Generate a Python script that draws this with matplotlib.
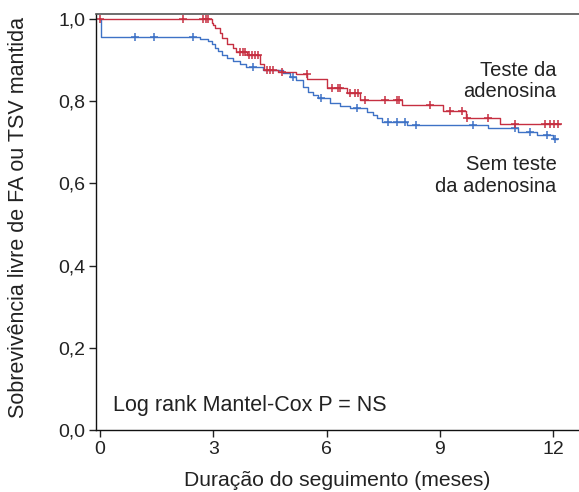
import numpy as np
import matplotlib
matplotlib.use("Agg")
import matplotlib.pyplot as plt
from matplotlib.ticker import FuncFormatter

plt.rcParams['font.family'] = ['Liberation Sans', 'DejaVu Sans']

# Kaplan-Meier step data: event times (months) and survival after each event
adeno_times = [0.0, 2.96, 2.99, 3.05, 3.18, 3.23, 3.36, 3.52, 3.60, 3.89, 4.24, 4.34,
               4.72, 5.19, 5.48, 6.01, 6.54, 6.89, 8.00, 9.09, 9.70, 10.60]
adeno_surv = [1.000, 0.990, 0.985, 0.977, 0.966, 0.953, 0.940, 0.929, 0.920, 0.912, 0.890, 0.877,
              0.872, 0.866, 0.855, 0.831, 0.821, 0.803, 0.790, 0.776, 0.760, 0.745]
adeno_end = 12.19
adeno_censored = [0.0, 2.20, 2.73, 2.81, 2.87, 3.71, 3.79, 3.84, 3.95, 4.03, 4.10, 4.19,
                  4.42, 4.50, 4.58, 4.82, 5.47, 6.15, 6.30, 6.36, 6.62, 6.75, 6.83, 7.02,
                  7.55, 7.87, 7.92, 8.74, 9.27, 9.59, 9.72, 10.28, 10.99, 11.79, 11.92,
                  12.03, 12.13]

no_adeno_times = [0.0, 0.03, 2.65, 2.86, 2.97, 3.05, 3.13, 3.23, 3.36, 3.52, 3.71, 3.87,
                  4.32, 4.85, 5.03, 5.19, 5.38, 5.51, 5.64, 5.77, 6.09, 6.36, 6.62, 7.07,
                  7.23, 7.34, 7.47, 8.12, 10.28, 11.07, 11.58, 11.99]
no_adeno_surv = [1.000, 0.956, 0.951, 0.946, 0.938, 0.930, 0.921, 0.912, 0.905, 0.897, 0.890, 0.883,
                 0.876, 0.868, 0.860, 0.852, 0.835, 0.823, 0.815, 0.808, 0.796, 0.789, 0.783, 0.774,
                 0.766, 0.759, 0.750, 0.742, 0.734, 0.726, 0.717, 0.709]
no_adeno_end = 12.12
no_adeno_censored = [0.93, 1.43, 2.46, 4.05, 5.11, 5.85, 6.81, 7.63, 7.87, 8.08, 8.37,
                     9.88, 10.99, 11.39, 11.84, 12.05]

x_ticks = [0, 3, 6, 9, 12]
y_ticks = [0.0, 0.2, 0.4, 0.6, 0.8, 1.0]

RED = '#c62f41'
BLUE = '#3e72c6'
TEXT = '#222222'


def survival_at(times, surv, t):
    idx = np.searchsorted(times, t, side='right') - 1
    return np.asarray(surv)[np.clip(idx, 0, len(surv) - 1)]


fig = plt.figure(figsize=(5.79, 4.92), dpi=100)
ax = fig.add_axes([0.166, 0.126, 0.834, 0.8455])

for times, surv, end, cens, color in [
    (no_adeno_times, no_adeno_surv, no_adeno_end, no_adeno_censored, BLUE),
    (adeno_times, adeno_surv, adeno_end, adeno_censored, RED),
]:
    t = np.append(times, end)
    s = np.append(surv, surv[-1])
    ax.step(t, s, where='post', color=color, lw=1.0)
    ax.plot(cens, survival_at(times, surv, cens), linestyle='none', marker='+',
            ms=6, mew=1.1, color=color)

ax.set_xlim(-0.106, 12.69)
ax.set_ylim(0.0, 1.012)
ax.set_xticks(x_ticks)
ax.set_yticks(y_ticks)
ax.yaxis.set_major_formatter(FuncFormatter(lambda v, p: f"{v:.1f}".replace('.', ',')))
ax.tick_params(direction='out', length=5, width=1, labelsize=14, colors=TEXT)
ax.tick_params(axis='x', pad=3)
ax.tick_params(axis='y', pad=3)

ax.spines['right'].set_visible(False)
ax.spines['top'].set_color('#555555')
ax.spines['top'].set_linewidth(1.2)
for side in ('left', 'bottom'):
    ax.spines[side].set_color('#111111')
    ax.spines[side].set_linewidth(1.0)

ax.set_xlabel('Duração do seguimento (meses)', fontsize=15.2, color=TEXT, labelpad=9)
ax.set_ylabel('Sobrevivência livre de FA ou TSV mantida', fontsize=15.5, color=TEXT)
ax.yaxis.set_label_coords(-0.14, 0.51)

ax.text(12.1, 0.800, 'Teste da\nadenosina', ha='right', va='bottom', fontsize=14.5,
        color=TEXT, linespacing=1.15)
ax.text(12.1, 0.570, 'Sem teste\nda adenosina', ha='right', va='bottom', fontsize=14.5,
        color=TEXT, linespacing=1.15)
ax.text(0.35, 0.06, 'Log rank Mantel-Cox P = NS', ha='left', va='center', fontsize=15.5,
        color=TEXT)

fig.savefig('out.png', dpi=100)
